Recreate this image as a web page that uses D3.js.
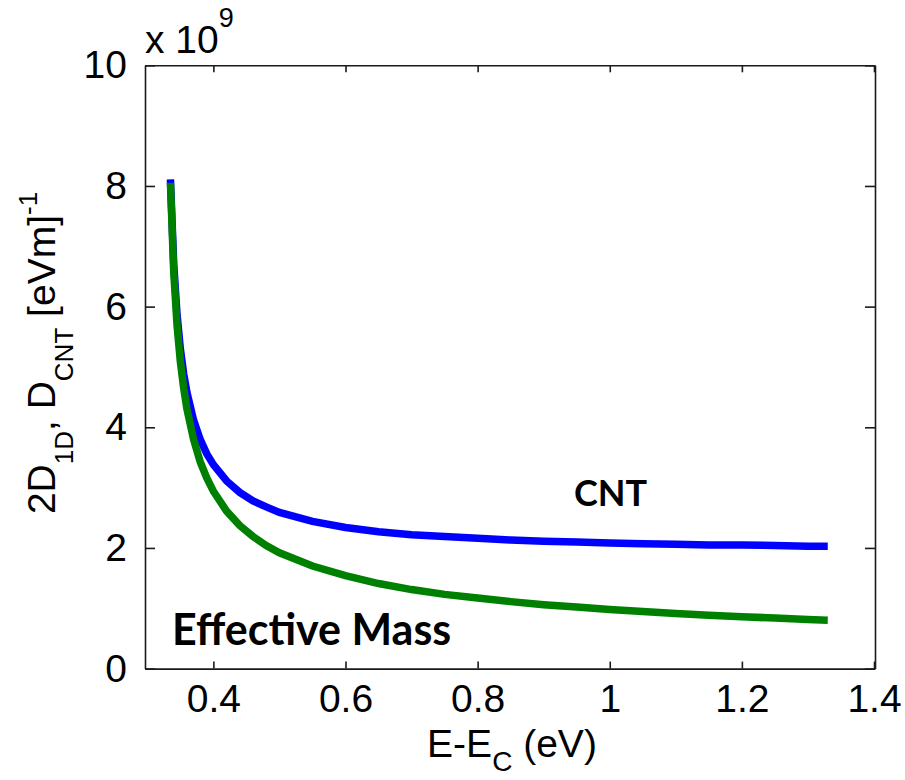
<!DOCTYPE html>
<html>
<head>
<meta charset="utf-8">
<title>1D density of states</title>
<script src="https://d3js.org/d3.v7.min.js"></script>
<style>
  body { margin: 0; background: #fff; }
  svg text { font-family: "Liberation Sans", Arial, sans-serif; fill: #000; }
  .note { font-family: Lato, "Open Sans", sans-serif; font-weight: bold; }
</style>
</head>
<body>
<script>
// energy samples E-Ec (eV)
var energy = [0.335, 0.34, 0.345, 0.35, 0.355, 0.36, 0.37, 0.38, 0.39, 0.40,
              0.42, 0.44, 0.46, 0.48, 0.50, 0.55, 0.60, 0.65, 0.70, 0.75,
              0.80, 0.85, 0.90, 0.95, 1.00, 1.05, 1.10, 1.15, 1.20, 1.25,
              1.30, 1.33];
// CNT density of states (x 1e9)
var dosCNT = [8.11, 6.70, 5.87, 5.30, 4.89, 4.58, 4.12, 3.80, 3.56, 3.38,
              3.11, 2.92, 2.78, 2.68, 2.59, 2.44, 2.34, 2.27, 2.22, 2.19,
              2.16, 2.13, 2.11, 2.10, 2.08, 2.07, 2.06, 2.05, 2.05, 2.04,
              2.03, 2.03];
// effective mass 2*D1D (x 1e9)
var dosEM = [8.05, 6.57, 5.69, 5.09, 4.65, 4.30, 3.80, 3.43, 3.16, 2.94,
             2.61, 2.37, 2.19, 2.04, 1.92, 1.70, 1.54, 1.41, 1.31, 1.23,
             1.17, 1.11, 1.06, 1.02, 0.98, 0.945, 0.914, 0.886, 0.861, 0.837,
             0.815, 0.803];
var xTicks = [0.4, 0.6, 0.8, 1.0, 1.2, 1.4];
var yTicks = [0, 2, 4, 6, 8, 10];

var W = 905, H = 780;
var mLeft = 145, mRight = 875, mTop = 65.3, mBottom = 668.6;

var svg = d3.select("body").append("svg")
    .attr("width", W)
    .attr("height", H);

var x = d3.scaleLinear().domain([0.2965, 1.4015]).range([mLeft, mRight]);
var y = d3.scaleLinear().domain([0, 10]).range([mBottom, mTop]);

// curves
var line = d3.line()
    .x(function(d) { return x(d[0]); })
    .y(function(d) { return y(d[1]); });

svg.append("path")
    .datum(d3.zip(energy, dosCNT))
    .attr("d", line)
    .attr("fill", "none")
    .attr("stroke", "#0000ff")
    .attr("stroke-width", 7.5);

svg.append("path")
    .datum(d3.zip(energy, dosEM))
    .attr("d", line)
    .attr("fill", "none")
    .attr("stroke", "#008000")
    .attr("stroke-width", 7.5);

// axes (matlab style box, ticks inside)
var fmtX = function(d) { return d === 1 ? "1" : d3.format(".1f")(d); };

svg.append("g")
    .attr("transform", "translate(0," + mBottom + ")")
    .call(d3.axisBottom(x).tickValues(xTicks).tickSize(-7).tickSizeOuter(0).tickPadding(16).tickFormat(fmtX))
    .call(function(g) {
        g.attr("font-family", null);
        g.selectAll("text").attr("font-size", 39).attr("dy", "0.71em");
    });

svg.append("g")
    .attr("transform", "translate(0," + mTop + ")")
    .call(d3.axisTop(x).tickValues(xTicks).tickSize(-7).tickSizeOuter(0).tickFormat(""));

svg.append("g")
    .attr("transform", "translate(" + mLeft + ",0)")
    .call(d3.axisLeft(y).tickValues(yTicks).tickSize(-10).tickSizeOuter(0).tickPadding(18).tickFormat(d3.format("d")))
    .call(function(g) {
        g.attr("font-family", null);
        g.selectAll("text").attr("font-size", 39);
    });

svg.append("g")
    .attr("transform", "translate(" + mRight + ",0)")
    .call(d3.axisRight(y).tickValues(yTicks).tickSize(-10).tickSizeOuter(0).tickFormat(""));

svg.selectAll(".domain").attr("stroke", "#1a1a1a").attr("stroke-width", 1.6);
svg.selectAll(".tick line").attr("stroke", "#1a1a1a").attr("stroke-width", 1.6);

// exponent
var expo = svg.append("text").attr("x", mLeft).attr("y", 53).attr("font-size", 39);
expo.append("tspan").text("x 10");
expo.append("tspan").attr("font-size", 27).attr("dy", -26).text("9");

// x label
var xl = svg.append("text")
    .attr("x", 512).attr("y", 757)
    .attr("text-anchor", "middle")
    .attr("font-size", 39);
xl.append("tspan").text("E-E");
xl.append("tspan").attr("font-size", 28).attr("dy", 14).text("C");
xl.append("tspan").attr("dy", -14).text(" (eV)");

// y label
var yl = svg.append("text")
    .attr("transform", "translate(55,353) rotate(-90)")
    .attr("text-anchor", "middle")
    .attr("font-size", 39);
yl.append("tspan").text("2D");
yl.append("tspan").attr("font-size", 26).attr("dy", 18).text("1D");
yl.append("tspan").attr("dy", -18).text(", D");
yl.append("tspan").attr("font-size", 26).attr("dy", 18).text("CNT");
yl.append("tspan").attr("dy", -18).text(" [eVm]");
yl.append("tspan").attr("font-size", 26).attr("dy", -18).text("-1");

// curve labels
svg.append("text").attr("class", "note")
    .attr("x", 574).attr("y", 506).attr("font-size", 36).text("CNT");
svg.append("text").attr("class", "note")
    .attr("x", 172).attr("y", 645).attr("font-size", 43).text("Effective Mass");
</script>
</body>
</html>
